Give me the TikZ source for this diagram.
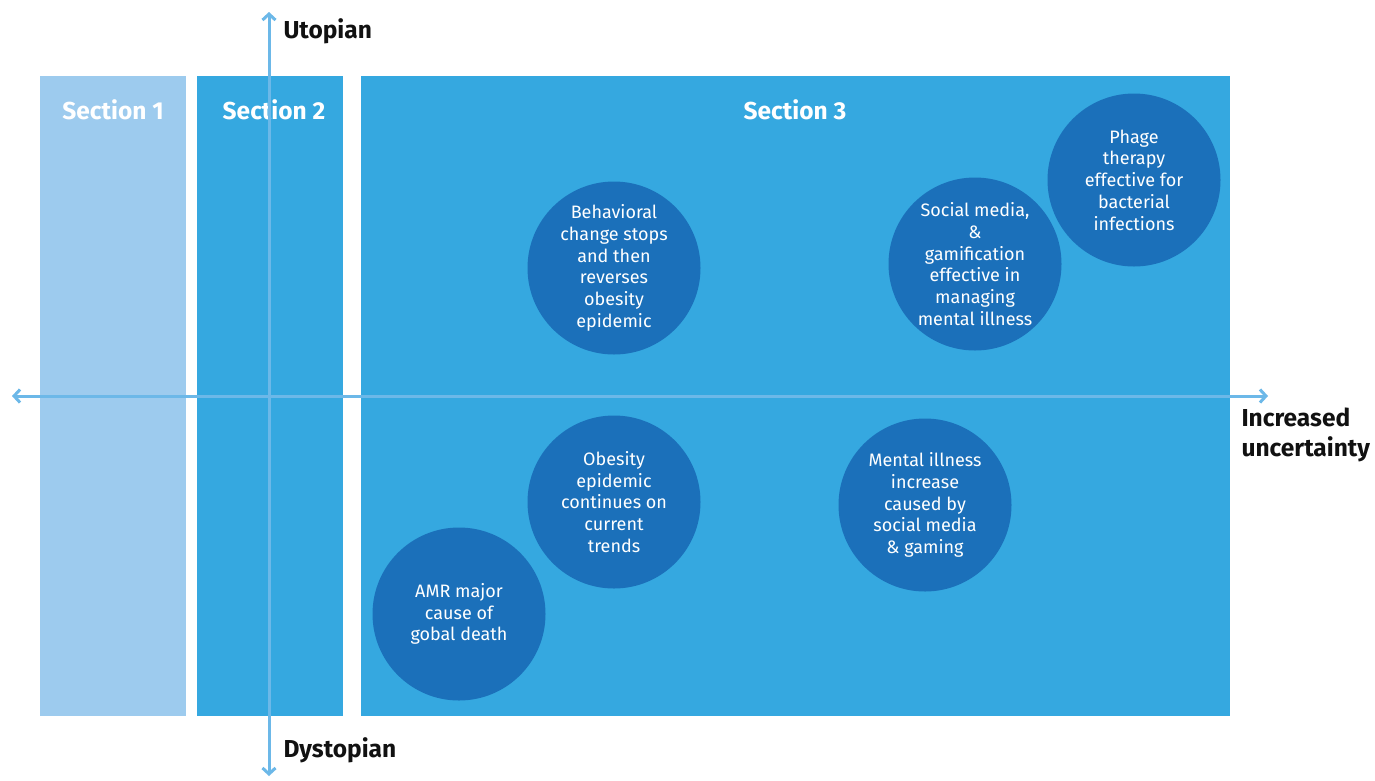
\documentclass[tikz,border=0pt]{standalone}
\usepackage{fontspec}
\setmainfont{Fira Sans}
\usetikzlibrary{arrows.meta}
\definecolor{sectLight}{HTML}{9DCBEE}
\definecolor{sectBlue}{HTML}{35A8E0}
\definecolor{bubbleBlue}{HTML}{1B70BA}
\definecolor{axisBlue}{HTML}{6CB8E8}
\definecolor{labelInk}{HTML}{111111}

\begin{document}
\begin{tikzpicture}[x=1pt,y=-1pt,>={Straight Barb[length=6pt,width=13pt,line width=3pt]},line cap=round,line join=round]
\useasboundingbox[fill=white] (0,0) rectangle (1375,780);
\tikzset{section/.style={inner sep=0pt,text=white,font=\fontsize{24.5}{28}\selectfont\bfseries},bubble/.style={circle,fill=bubbleBlue,minimum size=173pt,inner sep=0pt,align=center,text=white,font=\fontsize{18}{21.7}\selectfont},axis/.style={draw=axisBlue,line width=3pt},axislabel/.style={anchor=west,align=left,text=labelInk,font=\fontsize{24.5}{30}\selectfont\bfseries}}
% sections
\path[fill=sectLight] (40,76) rectangle (186,716);
\path[fill=sectBlue] (197,76) rectangle (343,716);
\path[fill=sectBlue] (361,76) rectangle (1230,716);
\node[section] (sec1) at (113,110) {Section 1};
\node[section] (sec2) at (274,110) {Section 2};
\node[section] (sec3) at (795,110) {Section 3};
% axes
\coordinate (top) at (269,12); \coordinate (bottom) at (269,776);
\coordinate (left) at (12,396); \coordinate (right) at (1268,396);
\draw[axis,<->] (bottom) -- (top);
\draw[axis,<->] (left) -- (right);
\node[axislabel] (utopian) at (280,31) {Utopian};
\node[axislabel] (dystopian) at (280,750) {Dystopian};
\node[axislabel] (uncert) at (1238,435) {Increased\\uncertainty};
% scenarios
\node[bubble] (behav) at (614,268) {Behavioral\\change stops\\and then\\reverses\\obesity\\epidemic};
\node[bubble] (social) at (975,264) {Social media,\\\&\\gamification\\effective in\\managing\\mental illness};
\node[bubble] (phage) at (1134,180) {Phage\\therapy\\effective for\\bacterial\\infections};
\node[bubble] (obesity) at (614,502) {Obesity\\epidemic\\continues on\\current\\trends};
\node[bubble] (mental) at (925,505) {Mental illness\\increase\\caused by\\social media\\\& gaming};
\node[bubble] (amr) at (459,614) {AMR major\\cause of\\gobal death};
\end{tikzpicture}
\end{document}
